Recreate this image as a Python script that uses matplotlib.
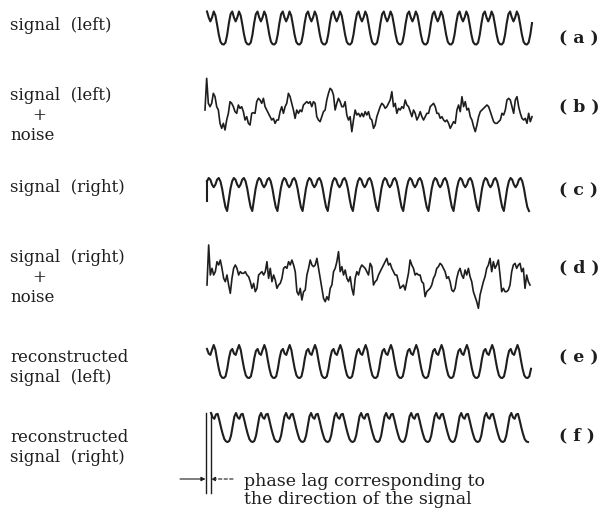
import numpy as np
import matplotlib
matplotlib.use("Agg")
import matplotlib.pyplot as plt

# one cycle of the clean waveforms, level 0 = trough, 1 = highest peak
cycle_left = [0.00, 0.06, 0.30, 0.65, 0.92, 1.00, 0.82, 0.70, 0.82, 1.00, 0.88, 0.60, 0.30, 0.08, 0.01]
cycle_right = [0.00, 0.35, 0.68, 0.90, 1.00, 0.95, 0.80, 0.72, 0.80, 0.95, 1.00, 0.90, 0.68, 0.38, 0.12]
cycle_rec_left = [0.00, 0.05, 0.28, 0.60, 0.82, 0.88, 0.74, 0.70, 0.86, 1.00, 0.85, 0.55, 0.28, 0.08, 0.01]
cycle_rec_right = [0.00, 0.04, 0.22, 0.55, 0.88, 1.00, 0.85, 0.80, 0.95, 0.97, 0.75, 0.50, 0.28, 0.10, 0.02]

# noisy recordings (larger value = lower on the page)
noisy_left = [120, 25, 100, 110, 100, 70, 80, 110, 120, 160, 175, 160, 180, 150, 130, 95, 100, 110, 125, 130,
              105, 115, 110, 125, 150, 140, 160, 165, 130, 128, 130, 95, 85, 90, 100, 85, 110, 120, 130, 140,
              150, 145, 160, 150, 150, 125, 110, 130, 110, 100, 70, 80, 100, 120, 145, 120, 130, 120, 125, 105,
              100, 95, 100, 95, 110, 95, 100, 140, 150, 155, 140, 125, 120, 90, 70, 55, 60, 75, 120, 100,
              85, 95, 110, 110, 95, 135, 150, 140, 185, 150, 120, 135, 130, 140, 130, 140, 125, 135, 125, 145,
              150, 175, 165, 140, 125, 110, 100, 105, 115, 110, 100, 90, 65, 110, 100, 130, 115, 120, 110, 115,
              90, 105, 110, 125, 140, 120, 130, 150, 140, 125, 140, 150, 140, 130, 130, 110, 105, 100, 110, 130,
              130, 145, 140, 150, 155, 150, 160, 175, 165, 155, 160, 120, 105, 125, 80, 110, 95, 120, 115, 140,
              150, 170, 185, 165, 140, 125, 120, 115, 110, 105, 110, 125, 140, 155, 160, 160, 155, 150, 130, 135,
              120, 90, 85, 90, 110, 130, 90, 80, 110, 130, 145, 150, 145, 160, 130, 155, 140]
noisy_right = [180, 60, 150, 130, 150, 140, 110, 120, 105, 130, 160, 170, 150, 180, 205, 160, 130, 120, 130, 150,
               140, 145, 145, 140, 150, 155, 170, 190, 175, 200, 190, 150, 145, 140, 150, 140, 110, 160, 130, 170,
               150, 165, 190, 180, 175, 160, 130, 125, 130, 110, 120, 105, 120, 140, 200, 210, 190, 225, 200, 195,
               150, 130, 105, 120, 125, 120, 100, 130, 160, 190, 220, 230, 215, 225, 190, 180, 140, 130, 110, 80,
               140, 125, 150, 135, 160, 170, 155, 190, 210, 160, 140, 150, 130, 120, 125, 130, 140, 150, 115, 125,
               180, 170, 165, 150, 140, 130, 120, 110, 100, 120, 115, 130, 140, 150, 150, 170, 190, 185, 180, 195,
               170, 145, 105, 120, 130, 150, 145, 150, 150, 170, 175, 215, 200, 195, 190, 180, 160, 150, 130, 125,
               115, 120, 130, 140, 160, 155, 170, 195, 200, 190, 160, 140, 130, 150, 160, 135, 150, 130, 155, 170,
               200, 215, 230, 250, 210, 190, 170, 155, 130, 120, 100, 140, 110, 130, 120, 105, 150, 200, 190, 200,
               200, 195, 180, 140, 120, 115, 130, 120, 115, 140, 130, 190, 150, 170, 180]

left_labels = [["signal  (left)"], ["signal  (left)", "+", "noise"], ["signal  (right)"],
               ["signal  (right)", "+", "noise"], ["reconstructed", "signal  (left)"],
               ["reconstructed", "signal  (right)"]]
tags = ["( a )", "( b )", "( c )", "( d )", "( e )", "( f )"]

INK = "#1e1e1e"
plt.rcParams["font.family"] = ["DejaVu Serif"]

fig = plt.figure(figsize=(6.04, 5.15), dpi=100)
ax = fig.add_axes([0, 0, 1, 1])
ax.set_xlim(0, 604)
ax.set_ylim(515, 0)
ax.axis("off")


def periodic(cycle, start, stop, x0, x1, top, amp):
    lev = np.tile(cycle, 16)[start:stop + 1]
    x = np.linspace(x0, x1, len(lev))
    y = top + amp * (1 - lev)
    ax.plot(x, y, color=INK, lw=1.5, solid_joinstyle="round")
    return x, y


def noisy(vals, x0, x1, top):
    v = np.array(vals, dtype=float)
    x = np.linspace(x0, x1, len(v))
    ax.plot(x, top + v / 3.0, color=INK, lw=1.2, solid_joinstyle="round")


# (a) signal left
periodic(cycle_left, 5, 198, 207, 532, 11.5, 33)
# (b) signal left + noise
noisy(noisy_left, 205, 532, 70)
# (c) signal right, with the start tick
xc, yc = periodic(cycle_right, 3, 195, 207, 529, 178, 33)
ax.plot([xc[0], xc[0]], [yc[0], 201], color=INK, lw=1.5)
# (d) signal right + noise
noisy(noisy_right, 207, 530, 225)
# (e) reconstructed left
periodic(cycle_rec_left, 5, 197, 207, 531, 345, 33)
# (f) reconstructed right
xf, yf = periodic(cycle_rec_right, 5, 195, 211, 528, 413, 29)

# phase lag markers
ax.plot([206, 206], [413, 493], color=INK, lw=1.0)
ax.plot([xf[0] - 0.5, xf[0] - 0.5], [413, 493], color=INK, lw=1.0)
ax.annotate("", xy=(205.5, 479), xytext=(180, 479),
            arrowprops=dict(arrowstyle="-|>", color=INK, lw=0.8, mutation_scale=6, shrinkA=0, shrinkB=0))
ax.annotate("", xy=(211, 479), xytext=(233, 479),
            arrowprops=dict(arrowstyle="-|>", color=INK, lw=0.8, mutation_scale=6, ls=(0, (3, 2)),
                            shrinkA=0, shrinkB=0))
ax.text(244, 486, "phase lag corresponding to", fontsize=12.5, va="baseline", ha="left", color=INK)
ax.text(244, 504, "the direction of the signal", fontsize=12.5, va="baseline", ha="left", color=INK)

# labels on the left
label_rows = [[25], [96, 115, 135], [188], [258, 278, 298], [357, 377], [437, 457]]
for lines, rows in zip(left_labels, label_rows):
    for txt, yy in zip(lines, rows):
        xx = 32 if txt == "+" else 10
        ax.text(xx, yy, txt, fontsize=12, va="center", ha="left", color=INK)

# tags on the right
tag_rows = [39, 107, 191, 268, 358, 436]
for t, yy in zip(tags, tag_rows):
    ax.text(559, yy, t, fontsize=12.5, fontweight="bold", va="center", ha="left", color=INK)

fig.savefig("out.png", dpi=100, facecolor="white")
